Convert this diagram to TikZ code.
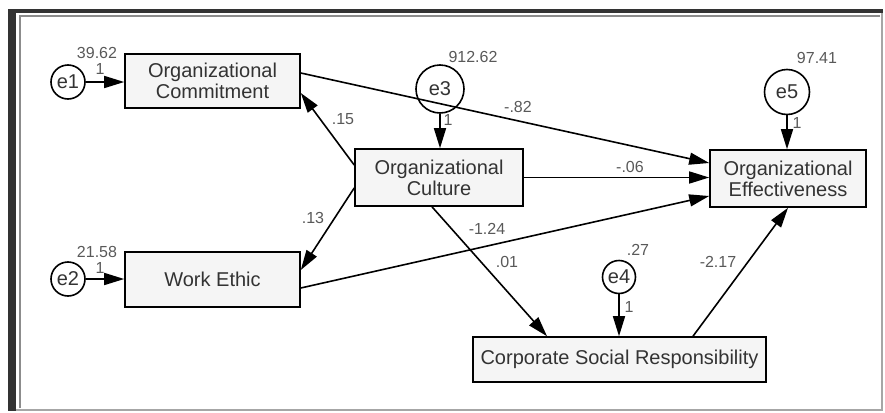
\documentclass[tikz,border=0pt]{standalone}
\usepackage{fontspec}
\setmainfont{Liberation Sans}
\usetikzlibrary{positioning, calc, arrows.meta}

\begin{document}
\begin{tikzpicture}[x=0.5pt, y=-0.5pt, line width=0.8pt, >={Triangle[length=10pt,width=6pt]},
    font=\fontsize{10}{10.5}\selectfont]

    % Styles for the path model
    \tikzset{
        var/.style={draw, rectangle, fill=black!4, text=black!80, align=center, inner sep=0pt},
        err/.style={draw, circle, text=black!80, inner sep=0pt},
        est/.style={text=black!65, font=\fontsize{8}{9}\selectfont, inner sep=0pt}
    }

    \useasboundingbox (0,0) rectangle (885,413);

    % ==========================================
    % Window frame
    % ==========================================
    \fill[black!80] (8,9) rectangle (16,411);
    \fill[black!80] (8,9) rectangle (883,13);
    \draw[black!45, line width=1.2pt] (20,408) -- (20,16) -- (880,16);
    \draw[black!35, line width=1pt] (16,410) -- (882,410) -- (882,13);

    % ==========================================
    % Observed variables
    % ==========================================
    \node[var, minimum width=87.5pt, minimum height=27pt] (ocom) at (212.5,81) {Organizational\\Commitment};
    \node[var, minimum width=87.5pt, minimum height=27.5pt] (wethic) at (212.5,279.5) {Work Ethic};
    \node[var, minimum width=84pt, minimum height=28.5pt] (ocul) at (439,177.5) {Organizational\\Culture};
    \node[var, minimum width=78pt, minimum height=28.5pt] (oeff) at (788,178.5) {Organizational\\Effectiveness};
    \node[var, minimum width=146.5pt, minimum height=22.5pt] (csr) at (619.5,359.5) {Corporate Social Responsibility};

    % Error terms
    \node[err, minimum size=17pt] (e1) at (68,82) {e1};
    \node[err, minimum size=17pt] (e2) at (68,279) {e2};
    \node[err, minimum size=24pt] (e3) at (440,89) {e3};
    \node[err, minimum size=16.5pt] (e4) at (619,277) {e4};
    \node[err, minimum size=22.5pt] (e5) at (787,92) {e5};

    % ==========================================
    % Paths
    % ==========================================
    \draw[->] (e1) -- (e1 -| ocom.west);
    \draw[->] (e2) -- (e2 -| wethic.west);
    \draw[->] (e3) -- (e3 |- ocul.north);
    \draw[->] (e4) -- (e4 |- csr.north);
    \draw[->] (e5) -- (e5 |- oeff.north);

    \draw[->] ($(ocul.west)+(0,-12.5)$) -- ($(ocom.east)+(0,12)$);
    \draw[->] ($(ocul.west)+(0,10.5)$) -- ($(wethic.east)+(0,-9.5)$);
    \draw[->] ($(ocom.east)+(0,-8)$) -- ($(oeff.west)+(0,-15.5)$);
    \draw[->] (ocul.east) -- (ocul.east -| oeff.west);
    \draw[->] ($(wethic.east)+(0,8.5)$) -- ($(oeff.west)+(0,17.5)$);
    \draw[->] ($(ocul.south)+(-7,0)$) -- ($(csr.north)+(-72.5,0)$);
    \draw[->] ($(csr.north)+(73.5,0)$) -- (oeff.south);

    % ==========================================
    % Estimates
    % ==========================================
    \node[est] (v1) at (97,53) {39.62};
    \node[est] (w1) at (100,69) {1};
    \node[est] (v2) at (97,252) {21.58};
    \node[est] (w2) at (100,268) {1};
    \node[est] (v3) at (473,57) {912.62};
    \node[est] (w3) at (448,120) {1};
    \node[est] (v5) at (817,58) {97.41};
    \node[est] (w5) at (797,123) {1};
    \node[est] (v4) at (638,250) {.27};
    \node[est] (w4) at (629,307) {1};

    \node[est] (b-ocul-ocom) at (343,119) {.15};
    \node[est] (b-ocul-wethic) at (313,218) {.13};
    \node[est] (b-ocom-oeff) at (518,107) {-.82};
    \node[est] (b-ocul-oeff) at (630,167) {-.06};
    \node[est] (b-wethic-oeff) at (487,229) {-1.24};
    \node[est] (b-ocul-csr) at (507,262) {.01};
    \node[est] (b-csr-oeff) at (718,262) {-2.17};

\end{tikzpicture}
\end{document}
